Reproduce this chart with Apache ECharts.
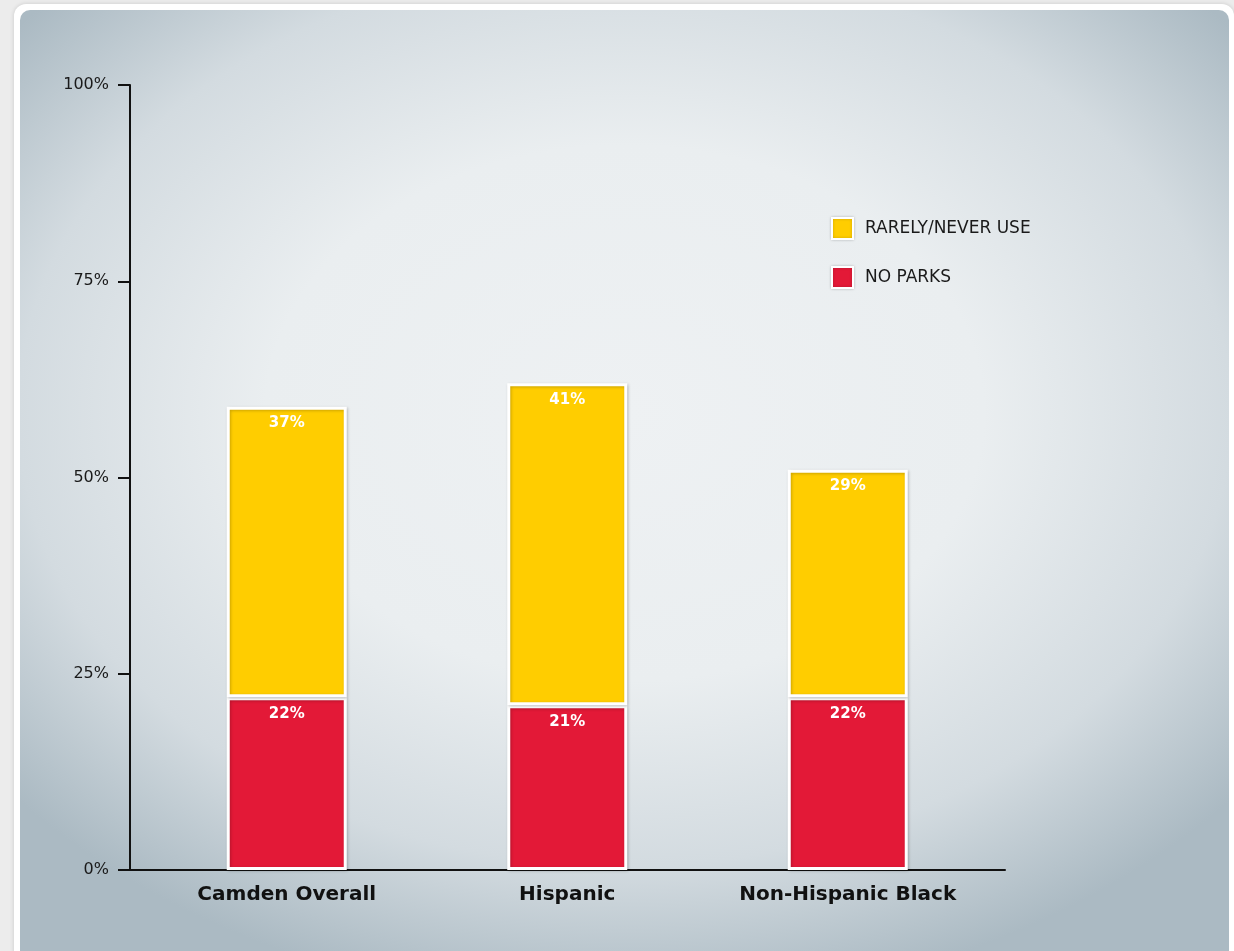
<!DOCTYPE html>
<html><head><meta charset="utf-8">
<script src="https://cdn.jsdelivr.net/npm/echarts@6/dist/echarts.min.js"></script>
<style>
html,body{margin:0;padding:0;width:1234px;height:951px;overflow:hidden;background:#ececec;}
#card{position:absolute;left:14px;top:4px;width:1220px;height:960px;background:#fff;border-radius:12px;box-shadow:0 0 4px rgba(0,0,0,0.15);}
#panel{position:absolute;left:20px;top:10px;width:1209px;height:960px;border-radius:10px;
background:radial-gradient(ellipse 66% 62% at 50% 42%, #eef1f3 0%, #eaeef0 45%, #d3dbe0 76%, #abbac3 100%);}
#chart{position:absolute;left:0;top:0;width:1234px;height:951px;}
</style></head>
<body>
<div id="card"></div><div id="panel"></div>
<div id="chart"></div>
<script>
const categories = ['Camden Overall', 'Hispanic', 'Non-Hispanic Black'];
const noParks = [22, 21, 22];
const rarelyNever = [37, 41, 29];
const seriesNames = ['NO PARKS', 'RARELY/NEVER USE'];
const yTicks = [0, 25, 50, 75, 100];

const chart = echarts.init(document.getElementById('chart'), null, {renderer:'canvas'});
const fontFam = '"DejaVu Sans", "Open Sans", sans-serif';
const labelStyle = {show:true, position:'insideTop', distance:9, color:'#fff', fontWeight:'bold', fontSize:15, fontFamily:fontFam, formatter: p => p.value + '%'};
const itemBase = {borderColor:'#fff', borderWidth:3, shadowColor:'rgba(0,0,0,0.22)', shadowBlur:3, shadowOffsetX:1, shadowOffsetY:1};
chart.setOption({
  animation:false,
  grid:[
    {left:146.5, right:1234-988, top:85, bottom:81},
    {left:130, right:1234-1005, top:85, bottom:81}
  ],
  legend:{
    data:[seriesNames[1], seriesNames[0]],
    orient:'vertical', left:831, top:217, padding:0, itemWidth:21, itemHeight:21, itemGap:26,
    icon:'rect',
    itemStyle:{borderColor:'#fff', borderWidth:2, shadowColor:'rgba(0,0,0,0.2)', shadowBlur:3},
    textStyle:{fontSize:17, color:'#1a1a1a', fontFamily:fontFam, padding:[0,0,0,7]}
  },
  xAxis:[
    {type:'category', gridIndex:0, data:categories,
     axisLine:{show:false}, axisTick:{show:false},
     axisLabel:{interval:0, margin:15, fontSize:20, fontWeight:'bold', color:'#111', fontFamily:fontFam}},
    {type:'category', gridIndex:1, data:[''], axisLine:{lineStyle:{color:'#111', width:2}},
     axisTick:{show:false}, axisLabel:{show:false}}
  ],
  yAxis:[
    {type:'value', gridIndex:0, min:0, max:100, interval:25, show:false},
    {type:'value', gridIndex:1, min:0, max:100, interval:25,
     axisLine:{show:true, lineStyle:{color:'#111', width:2}},
     axisTick:{show:true, length:12, lineStyle:{color:'#111', width:2}},
     axisLabel:{margin:21, fontSize:16, color:'#1a1a1a', fontFamily:fontFam,
       formatter: v => yTicks.includes(v) ? v + '%' : ''},
     splitLine:{show:false}}
  ],
  series:[
    {name:seriesNames[0], type:'bar', stack:'s', xAxisIndex:0, yAxisIndex:0, barWidth:120,
     data:noParks, itemStyle:Object.assign({color:'#E31937'}, itemBase), label:labelStyle},
    {name:seriesNames[1], type:'bar', stack:'s', xAxisIndex:0, yAxisIndex:0, barWidth:120,
     data:rarelyNever, itemStyle:Object.assign({color:'#FFCD00'}, itemBase), label:labelStyle}
  ]
});
</script>
</body></html>
